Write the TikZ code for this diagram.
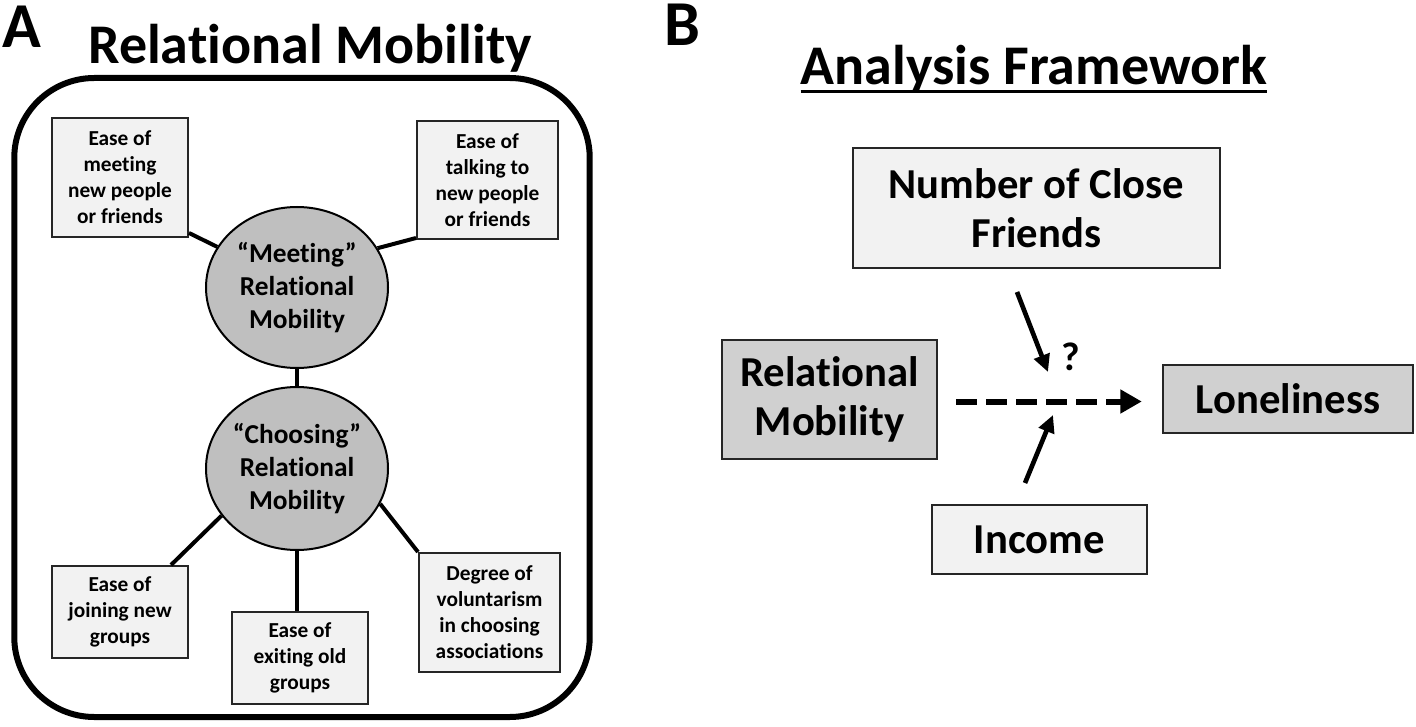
\documentclass[tikz,border=0pt]{standalone}
\usepackage{fontspec}
\setmainfont{Carlito}[Ligatures=NoCommon]
\usetikzlibrary{arrows.meta,shapes.geometric}
\definecolor{lightbox}{HTML}{F2F2F2}
\definecolor{darkbox}{HTML}{D0D0D0}
\definecolor{ellfill}{HTML}{BFBFBF}
\begin{document}
\begin{tikzpicture}[x=0.75pt,y=-0.75pt,
  smallbox/.style={draw=black!85, line width=1.5pt, fill=lightbox, align=center, inner sep=0pt,
    font=\fontsize{16}{19.5}\selectfont\bfseries},
  ellnode/.style={ellipse, draw=black, line width=1.5pt, fill=ellfill, align=center, inner sep=0pt,
    font=\fontsize{20.5}{24.75}\selectfont\bfseries, minimum width=136.5pt},
  bigbox/.style={draw=black!85, line width=1.8pt, align=center, inner sep=0pt,
    font=\fontsize{32}{37}\selectfont\bfseries},
  link/.style={line width=3pt, black},
  arr/.style={line width=3.5pt, -{Triangle[length=13pt,width=12pt]}},
  dasharr/.style={line width=4.5pt, dash pattern=on 15.5pt off 7pt, -{Triangle[length=16pt,width=17pt]}},
  titlefont/.style={font=\fontsize{42}{48}\selectfont\bfseries, inner sep=0pt},
  panelfont/.style={font=\fontsize{48}{54}\selectfont\bfseries, inner sep=0pt}
]
\useasboundingbox (0,0) rectangle (1416,727);

% ---------- Panel A ----------
\node[panelfont, anchor=base west] (labA) at (2,48) {A};
\node[titlefont, anchor=base] (titA) at (310,64) {Relational Mobility};
\node[draw, line width=4.5pt, rounded corners=60pt, minimum width=431.6pt, minimum height=479.25pt, inner sep=0pt] (frame) at (302,397.5) {};

\node[smallbox, minimum width=102pt, minimum height=89.25pt] (tl) at (120,177.5) {Ease of\\meeting\\new people\\or friends};
\node[smallbox, minimum width=105.75pt, minimum height=88.5pt] (tr) at (487.5,180) {Ease of\\talking to\\new people\\or friends};
\node[smallbox, minimum width=102pt, minimum height=69pt] (bl) at (120,612) {Ease of\\joining new\\groups};
\node[smallbox, minimum width=102pt, minimum height=69pt] (bm) at (300,658) {Ease of\\exiting old\\groups};
\node[smallbox, minimum width=105.75pt, minimum height=89.25pt] (br) at (489.5,612.5) {Degree of\\voluntarism\\in choosing\\associations};

\node[ellnode, minimum height=120.75pt] (m) at (297,287.5) {“Meeting”\\Relational\\Mobility};
\node[ellnode, minimum height=122.25pt] (c) at (297,468.5) {“Choosing”\\Relational\\Mobility};

\draw[link] (m.153) -- ([yshift=3.75pt]tl.south east);
\draw[link] (m.26) -- ([yshift=1.5pt]tr.south west);
\draw[link] (m.south) -- (c.north);
\draw[link] (c.-148) -- ([xshift=-13.5pt]bl.north east);
\draw[link] (c.south) -- (c.south |- bm.north);
\draw[link] (c.-23) -- (br.north west);

% ---------- Panel B ----------
\node[panelfont, anchor=base west] (labB) at (664,46) {B};
\node[titlefont, anchor=base] (titB) at (1034,85) {Analysis Framework};
\draw[line width=2.25pt] ([yshift=-5.25pt]titB.base west) -- ([yshift=-5.25pt]titB.base east);

\node[bigbox, fill=lightbox, minimum width=275.25pt, minimum height=90pt] (nb) at (1036.5,208) {Number of Close\\Friends};
\node[bigbox, fill=darkbox, minimum width=161.25pt, minimum height=89.25pt] (rm) at (829.5,399.5) {Relational\\Mobility};
\node[bigbox, fill=darkbox, minimum width=187.5pt, minimum height=51pt] (lone) at (1288,399) {Loneliness};
\node[bigbox, fill=lightbox, minimum width=161.25pt, minimum height=51.75pt] (inc) at (1039.5,539.5) {Income};
\node[font=\fontsize{30}{34}\selectfont\bfseries, inner sep=0pt] (q) at (1071,357) {?};

\coordinate (n1) at (1017,292);
\coordinate (n2) at (1048,372);
\coordinate (i1) at (1025,483);
\coordinate (i2) at (1053,415);
\draw[arr] (n1) -- (n2);
\draw[arr] (i1) -- (i2);
\draw[dasharr, shorten <=13.5pt, shorten >=15pt] ([yshift=-1.5pt]rm.east) -- ([yshift=-1.5pt]rm.east -| lone.west);
\end{tikzpicture}
\end{document}
